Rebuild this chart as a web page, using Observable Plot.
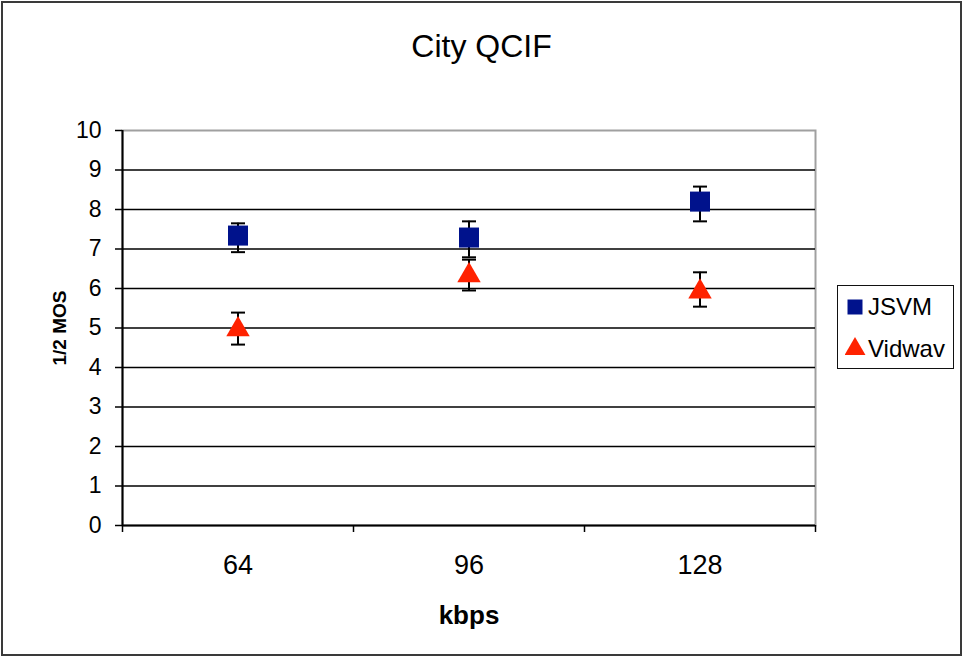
<!DOCTYPE html>
<html>
<head>
<meta charset="utf-8">
<script src="https://cdn.jsdelivr.net/npm/d3@7"></script>
<script src="https://cdn.jsdelivr.net/npm/@observablehq/plot@0.6"></script>
<style>
  html, body { margin: 0; padding: 0; background: #fff; }
  #wrap { position: relative; width: 963px; height: 657px; overflow: hidden; font-family: "Liberation Sans", Arial, sans-serif; color: #000; }
  #wrap > svg { position: absolute; left: 0; top: 0; }
  #border { position: absolute; left: 1px; top: 1px; width: 957px; height: 651px; border: 2px solid #3a3a3a; }
  #title { position: absolute; left: 0; top: 30px; width: 963px; text-align: center; font-size: 32px; line-height: 32px; }
  #legend { position: absolute; left: 837px; top: 285px; width: 115px; height: 82px; border: 1.5px solid #111; background: #fff; }
  .item { position: absolute; left: 0; height: 30px; font-size: 24px; line-height: 30px; }
  .item svg { position: absolute; left: 7px; top: 0; }
  .item span { position: absolute; left: 30px; top: 0; white-space: nowrap; }
  [aria-label="y-axis tick label"] { font-family: "Liberation Sans", Arial, sans-serif; font-size: 23px; }
  [aria-label="x-axis tick label"] { font-family: "Liberation Sans", Arial, sans-serif; font-size: 27px; }
  [aria-label="y-axis label"] { font-family: "Liberation Sans", Arial, sans-serif; font-size: 19px; font-weight: bold; }
  [aria-label="x-axis label"] { font-family: "Liberation Sans", Arial, sans-serif; font-size: 26px; font-weight: bold; }
</style>
</head>
<body>
<div id="wrap">
  <div id="title">City QCIF</div>
  <div id="legend"></div>
  <div id="border"></div>
</div>
<script>
// ---- data ----
const kbps = ["64", "96", "128"];
const seriesNames = ["JSVM", "Vidwav"];
const jsvmMean = [7.34, 7.29, 8.20];
const jsvmLow = [6.92, 6.79, 7.70];
const jsvmHigh = [7.65, 7.70, 8.58];
const vidwavMean = [4.96, 6.33, 5.92];
const vidwavLow = [4.58, 5.95, 5.54];
const vidwavHigh = [5.39, 6.73, 6.41];
const yTicks = [0, 1, 2, 3, 4, 5, 6, 7, 8, 9, 10];
const seriesColors = ["#00128c", "#ff2200"];
const seriesSymbols = ["square", "triangle"];

// ---- table built from the arrays ----
const rows = [];
kbps.forEach((k, i) => {
  rows.push({series: seriesNames[0], pos: i + 0.5, mean: jsvmMean[i], lo: jsvmLow[i], hi: jsvmHigh[i]});
  rows.push({series: seriesNames[1], pos: i + 0.5, mean: vidwavMean[i], lo: vidwavLow[i], hi: vidwavHigh[i]});
});

const capSymbol = { draw(ctx) { ctx.moveTo(-7, 0); ctx.lineTo(7, 0); } };

const chart = Plot.plot({
  width: 963,
  height: 657,
  marginLeft: 122,
  marginRight: 148,
  marginTop: 130,
  marginBottom: 132,
  style: { background: "transparent", fontFamily: "Liberation Sans, Arial, sans-serif" },
  x: { type: "linear", domain: [0, kbps.length] },
  y: { domain: [0, 10] },
  marks: [
    Plot.frame({ stroke: "#a0a0a0", strokeWidth: 2 }),
    Plot.gridY(yTicks.filter(t => t > 0 && t < 10), { stroke: "#000", strokeOpacity: 1, strokeWidth: 1.5 }),
    Plot.axisY(yTicks, { tickSize: 7, tickPadding: 14, strokeWidth: 1.5, label: "1/2 MOS", labelAnchor: "center", labelArrow: "none", labelOffset: 70 }),
    Plot.axisX(d3.range(kbps.length + 1), { tickSize: 7, strokeWidth: 1.5, tickFormat: () => "", label: null }),
    Plot.axisX(kbps.map((k, i) => i + 0.5), { tickSize: 0, tickPadding: 29, tickFormat: d => kbps[Math.floor(d)], label: "kbps", labelAnchor: "center", labelArrow: "none", labelOffset: 98 }),
    Plot.ruleX([0], { stroke: "#000", strokeWidth: 2 }),
    Plot.ruleY([0], { stroke: "#000", strokeWidth: 2 }),
    Plot.ruleX(rows, { x: "pos", y1: "lo", y2: "hi", stroke: "#000", strokeWidth: 2 }),
    Plot.dot(rows, { x: "pos", y: "lo", symbol: capSymbol, r: 5, stroke: "#000", strokeWidth: 2, fill: "none" }),
    Plot.dot(rows, { x: "pos", y: "hi", symbol: capSymbol, r: 5, stroke: "#000", strokeWidth: 2, fill: "none" }),
    Plot.dot(rows.filter(d => d.series === seriesNames[0]), { x: "pos", y: "mean", symbol: seriesSymbols[0], r: 11.3, fill: seriesColors[0], stroke: "none" }),
    Plot.dot(rows.filter(d => d.series === seriesNames[1]), { x: "pos", y: "mean", symbol: seriesSymbols[1], r: 8.7, fill: seriesColors[1], stroke: "none" })
  ]
});
document.getElementById("wrap").prepend(chart);

// ---- legend ----
const legend = document.getElementById("legend");
const tops = [10, 52];
seriesNames.forEach((name, i) => {
  const item = document.createElement("div");
  item.className = "item";
  item.style.top = (tops[i] - 4) + "px";
  const sym = d3.symbol(i === 0 ? d3.symbolSquare : d3.symbolTriangle, i === 0 ? 225 : 190)();
  item.innerHTML = `<svg width="22" height="30"><path transform="translate(10,15)" d="${sym}" fill="${seriesColors[i]}"></path></svg><span>${name}</span>`;
  legend.appendChild(item);
});
</script>
</body>
</html>
